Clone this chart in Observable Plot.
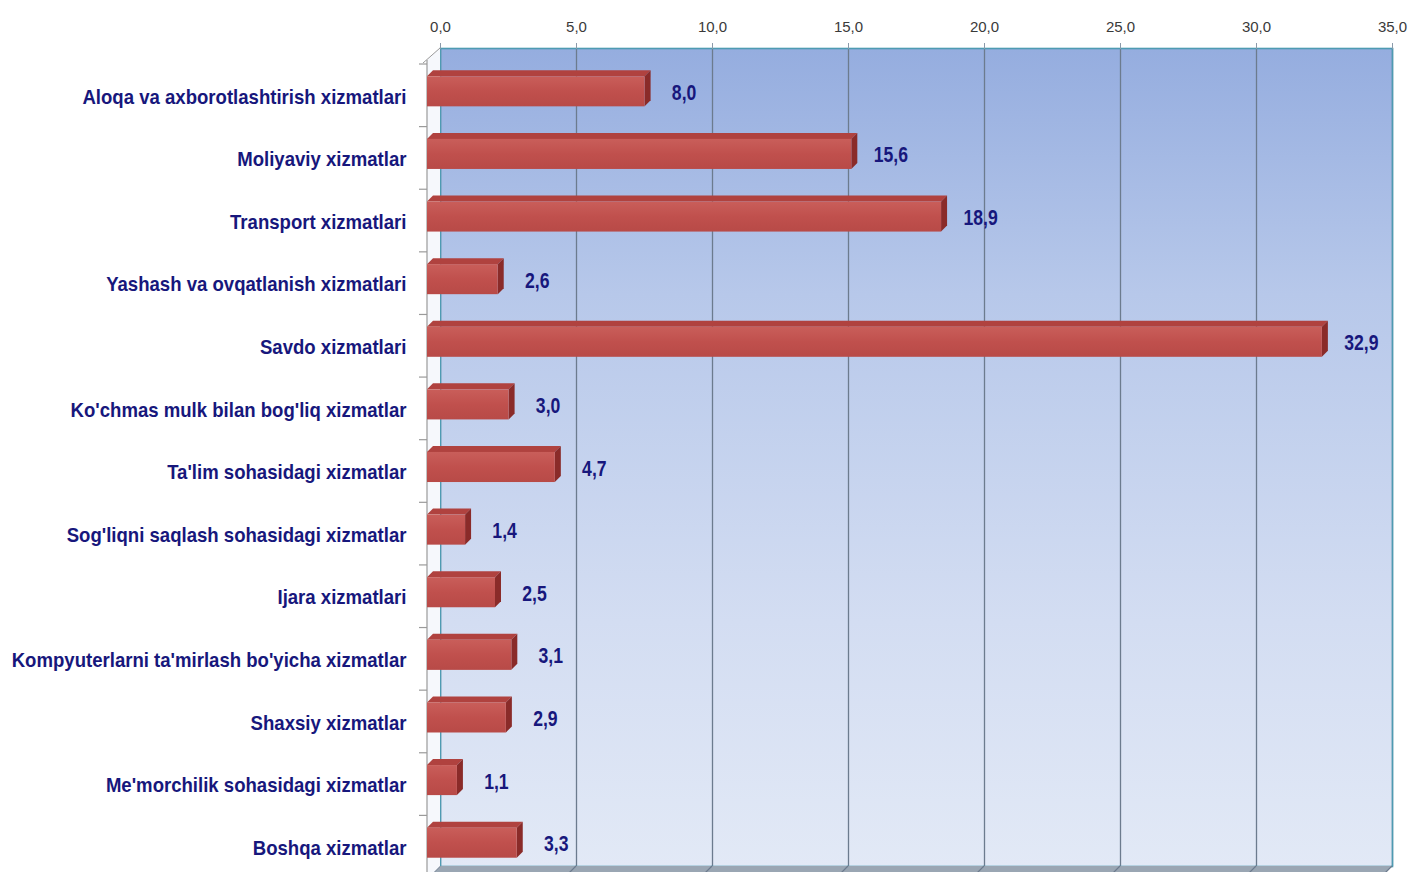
<!DOCTYPE html>
<html><head><meta charset="utf-8">
<script src="https://cdn.jsdelivr.net/npm/d3@7"></script>
<script src="https://cdn.jsdelivr.net/npm/@observablehq/plot@0.6"></script>
<style>
html,body{margin:0;padding:0;background:#fff;overflow:hidden;}
svg{display:block;}
</style></head><body><div id="chart"></div>
<script>
const categories = [
  "Aloqa va axborotlashtirish xizmatlari",
  "Moliyaviy xizmatlar",
  "Transport xizmatlari",
  "Yashash va ovqatlanish xizmatlari",
  "Savdo xizmatlari",
  "Ko'chmas mulk bilan bog'liq xizmatlar",
  "Ta'lim sohasidagi xizmatlar",
  "Sog'liqni saqlash sohasidagi xizmatlar",
  "Ijara xizmatlari",
  "Kompyuterlarni ta'mirlash bo'yicha xizmatlar",
  "Shaxsiy xizmatlar",
  "Me'morchilik sohasidagi xizmatlar",
  "Boshqa xizmatlar"
];
const values = [8.0, 15.6, 18.9, 2.6, 32.9, 3.0, 4.7, 1.4, 2.5, 3.1, 2.9, 1.1, 3.3];
const xTicks = [0, 5, 10, 15, 20, 25, 30, 35];

const data = categories.map((c, i) => ({category: c, value: values[i]}));
const fmt = v => v.toFixed(1).replace(".", ",");

const FONT = "'Liberation Sans',Arial,sans-serif";
const NAVY = "#17177c";
const FRONT_DX = -13;   // 3D offset of the front plane
const DEPTH = 6;         // bar depth
const CAT_SIZE = 21, VAL_SIZE = 22;

function svgEl(tag) { return document.createElementNS("http://www.w3.org/2000/svg", tag); }

function defsMark() {
  const defs = svgEl("defs");
  defs.innerHTML = `<linearGradient id="wallGrad" x1="0" y1="0" x2="0" y2="1">
    <stop offset="0" stop-color="#95addf"/>
    <stop offset="0.3" stop-color="#b7c8ea"/>
    <stop offset="0.7" stop-color="#d3ddf2"/>
    <stop offset="1" stop-color="#e2e9f6"/>
  </linearGradient>
  <linearGradient id="barGrad" x1="0" y1="0" x2="0" y2="1">
    <stop offset="0" stop-color="#c95e5a"/>
    <stop offset="0.5" stop-color="#c0504d"/>
    <stop offset="1" stop-color="#b84a47"/>
  </linearGradient>`;
  return defs;
}

function wallsMark(index, scales, values, dim) {
  const g = svgEl("g");
  const xl = dim.marginLeft, xr = dim.width - dim.marginRight;
  const yb = dim.height - dim.marginBottom, yt = dim.marginTop;
  const off = -FRONT_DX;
  const floor = svgEl("polygon");
  floor.setAttribute("points", `${xl},${yb} ${xr},${yb} ${xr - off},${yb + off} ${xl - off},${yb + off}`);
  floor.setAttribute("fill", "#9aa6b3");
  g.appendChild(floor);
  for (const t of xTicks) {
    const px = scales.x(t);
    const l = svgEl("line");
    l.setAttribute("x1", px); l.setAttribute("y1", yb);
    l.setAttribute("x2", px - off); l.setAttribute("y2", yb + off);
    l.setAttribute("stroke", "#6c7b8e"); l.setAttribute("stroke-width", 1.2);
    g.appendChild(l);
  }
  const y = scales.y;
  const r = y.range();
  const topFront = r[0];
  const side = svgEl("polygon");
  side.setAttribute("points", `${xl - off},${topFront} ${xl},${yt} ${xl},${yb} ${xl - off},${yb + off}`);
  side.setAttribute("fill", "#f6f8fc");
  g.appendChild(side);
  const diag = svgEl("line");
  diag.setAttribute("x1", xl - off - 4); diag.setAttribute("y1", topFront + 3);
  diag.setAttribute("x2", xl); diag.setAttribute("y2", yt);
  diag.setAttribute("stroke", "#9a9a9a"); g.appendChild(diag);
  const axisLine = svgEl("line");
  axisLine.setAttribute("x1", xl - off); axisLine.setAttribute("y1", topFront);
  axisLine.setAttribute("x2", xl - off); axisLine.setAttribute("y2", dim.height);
  axisLine.setAttribute("stroke", "#9a9a9a"); axisLine.setAttribute("stroke-width", 1.2);
  g.appendChild(axisLine);
  const step = y.step(), bw = y.bandwidth();
  categories.forEach((c) => {
    const by = y(c) - (step - bw) / 2 + 4;
    const t = svgEl("line");
    t.setAttribute("x1", xl - off - 8); t.setAttribute("x2", xl - off);
    t.setAttribute("y1", by); t.setAttribute("y2", by);
    t.setAttribute("stroke", "#9a9a9a"); t.setAttribute("stroke-width", 1.2);
    g.appendChild(t);
  });
  return g;
}

function barDepthMark(index, scales) {
  const g = svgEl("g");
  const x = scales.x, y = scales.y;
  const bw = y.bandwidth();
  const x0 = x(0) + FRONT_DX;
  for (const d of data) {
    const x1 = x(d.value) + FRONT_DX;
    const yt = y(d.category), yb = yt + bw;
    const top = svgEl("polygon");
    top.setAttribute("points", `${x0},${yt} ${x0 + DEPTH},${yt - DEPTH} ${x1 + DEPTH},${yt - DEPTH} ${x1},${yt}`);
    top.setAttribute("fill", "#b0423f");
    g.appendChild(top);
    const side = svgEl("polygon");
    side.setAttribute("points", `${x1},${yt} ${x1 + DEPTH},${yt - DEPTH} ${x1 + DEPTH},${yb - DEPTH} ${x1},${yb}`);
    side.setAttribute("fill", "#8a2b29");
    g.appendChild(side);
  }
  return g;
}

const chart = Plot.plot({
  width: 1410,
  height: 872,
  marginLeft: 440,
  marginRight: 18,
  marginTop: 48,
  marginBottom: 6,
  style: {fontFamily: FONT, background: "#fff", overflow: "visible"},
  x: {domain: [0, 35]},
  y: {domain: categories, range: [60, 874], paddingInner: 0.52, paddingOuter: 0.26, round: false, axis: null},
  marks: [
    defsMark,
    Plot.frame({fill: "url(#wallGrad)", stroke: "none"}),
    Plot.gridX(xTicks, {stroke: "#6c7b8e", strokeOpacity: 1, strokeWidth: 1.3}),
    Plot.frame({stroke: "#4e9bb2", strokeWidth: 1.6, fill: "none"}),
    wallsMark,
    Plot.axisX({anchor: "top", ticks: xTicks, tickFormat: fmt, tickSize: 6, tickPadding: 11, label: null,
      fontSize: 15, fill: "#3a3a3a", stroke: "#8a9aaa", fontFamily: FONT}),
    Plot.text(categories, {y: d => d, frameAnchor: "left", dx: -34, dy: 5, textAnchor: "end",
      fontSize: CAT_SIZE, fontWeight: "bold", fill: NAVY, fontFamily: FONT}),
    barDepthMark,
    Plot.barX(data, {x: "value", y: "category", dx: FRONT_DX, fill: "url(#barGrad)"}),
    Plot.text(data, {x: "value", y: "category", text: d => fmt(d.value), dx: 26, dy: 1,
      textAnchor: "middle", fontSize: VAL_SIZE, fontWeight: "bold", fill: NAVY, fontFamily: FONT})
  ]
});
// squeeze the bold labels horizontally around their anchor (imitates a narrow face)
chart.querySelectorAll('g[aria-label="text"]').forEach(g => {
  const fs = parseFloat(g.getAttribute("font-size"));
  const k = fs === CAT_SIZE ? 0.885 : fs === VAL_SIZE ? 0.8 : 1;
  g.querySelectorAll("text").forEach(t => {
    const tr = t.getAttribute("transform") || "";
    t.setAttribute("transform", tr + ` scale(${k},1)`);
  });
});
document.getElementById("chart").appendChild(chart);
</script>
</body></html>
